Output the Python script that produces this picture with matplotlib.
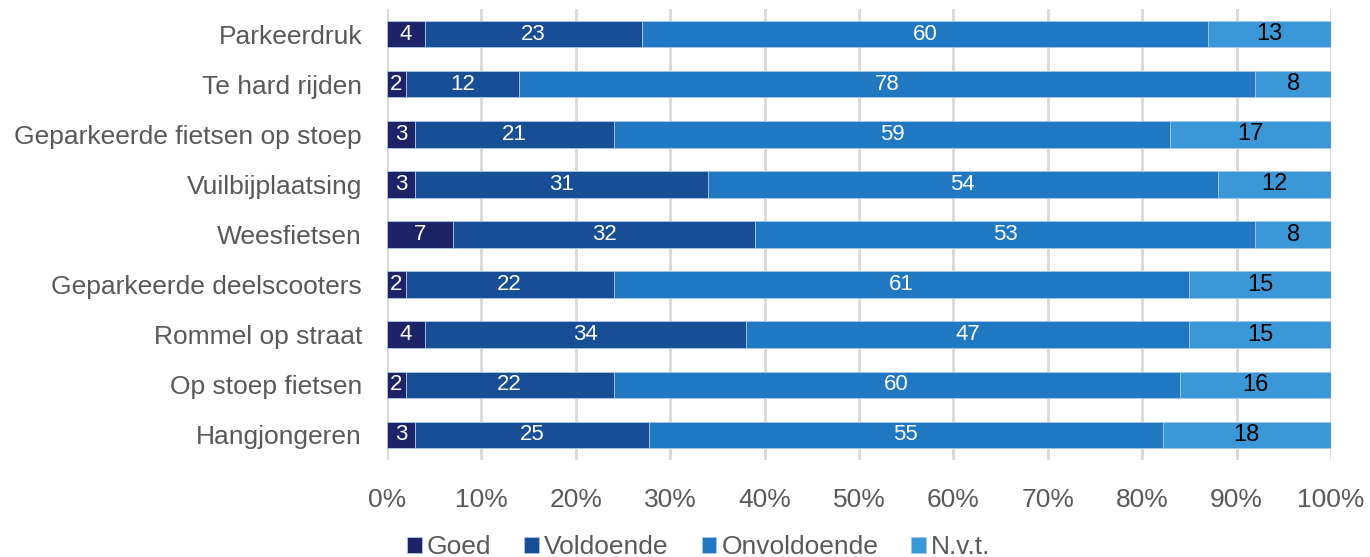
import matplotlib
matplotlib.use('Agg')
import matplotlib.pyplot as plt
import numpy as np

plt.rcParams['font.family'] = ['Liberation Sans', 'DejaVu Sans']

# Categorieën en waarden (percentages)
categorieen = ['Parkeerdruk', 'Te hard rijden', 'Geparkeerde fietsen op stoep',
               'Vuilbijplaatsing', 'Weesfietsen', 'Geparkeerde deelscooters',
               'Rommel op straat', 'Op stoep fietsen', 'Hangjongeren']
goed = [4, 2, 3, 3, 7, 2, 4, 2, 3]
voldoende = [23, 12, 21, 31, 32, 22, 34, 22, 25]
onvoldoende = [60, 78, 59, 54, 53, 61, 47, 60, 55]
nvt = [13, 8, 17, 12, 8, 15, 15, 16, 18]

reeksen = ['Goed', 'Voldoende', 'Onvoldoende', 'N.v.t.']
kleuren = ['#1c2366', '#174e96', '#1f78c1', '#3a98d8']
labelkleuren = ['white', 'white', 'white', 'black']

data = np.array([goed, voldoende, onvoldoende, nvt], dtype=float)
totaal = data.sum(axis=0)
aandeel = data / totaal * 100

fig = plt.figure(figsize=(13.7, 5.57), dpi=100)
ax = fig.add_axes([0.2825, 0.1741, 0.689, 0.8097])

y = np.arange(len(categorieen))
links = np.zeros(len(categorieen))
for i in range(4):
    bars = ax.barh(y, aandeel[i], left=links, height=0.53, color=kleuren[i],
                   edgecolor='#a9c8e8', linewidth=0.6, label=reeksen[i], zorder=3)
    ax.bar_label(bars, labels=[str(int(v)) for v in data[i]], label_type='center',
                 color=labelkleuren[i], fontsize=16 if i < 3 else 17)
    links += aandeel[i]

ax.set_xlim(0, 100)
ax.set_ylim(len(categorieen) - 0.5, -0.5)
ax.set_yticks(y)
ax.set_yticklabels(categorieen, fontsize=19, color='#595959')
ax.set_xticks(np.arange(0, 101, 10))
ax.set_xticklabels([f'{t}%' for t in range(0, 101, 10)], fontsize=19, color='#595959')
ax.tick_params(axis='y', length=0, pad=18)
ax.tick_params(axis='x', length=0, pad=20)
ax.grid(axis='x', color='#d9d9d9', linewidth=2, zorder=0)
for s in ax.spines.values():
    s.set_visible(False)

fig.legend(loc='center', bbox_to_anchor=(0.51, 0.018), ncol=4, frameon=False,
           fontsize=19, handlelength=0.55, handleheight=0.55, handletextpad=0.2,
           columnspacing=1.25, labelcolor='#595959')

plt.savefig('out.png', dpi=100)
